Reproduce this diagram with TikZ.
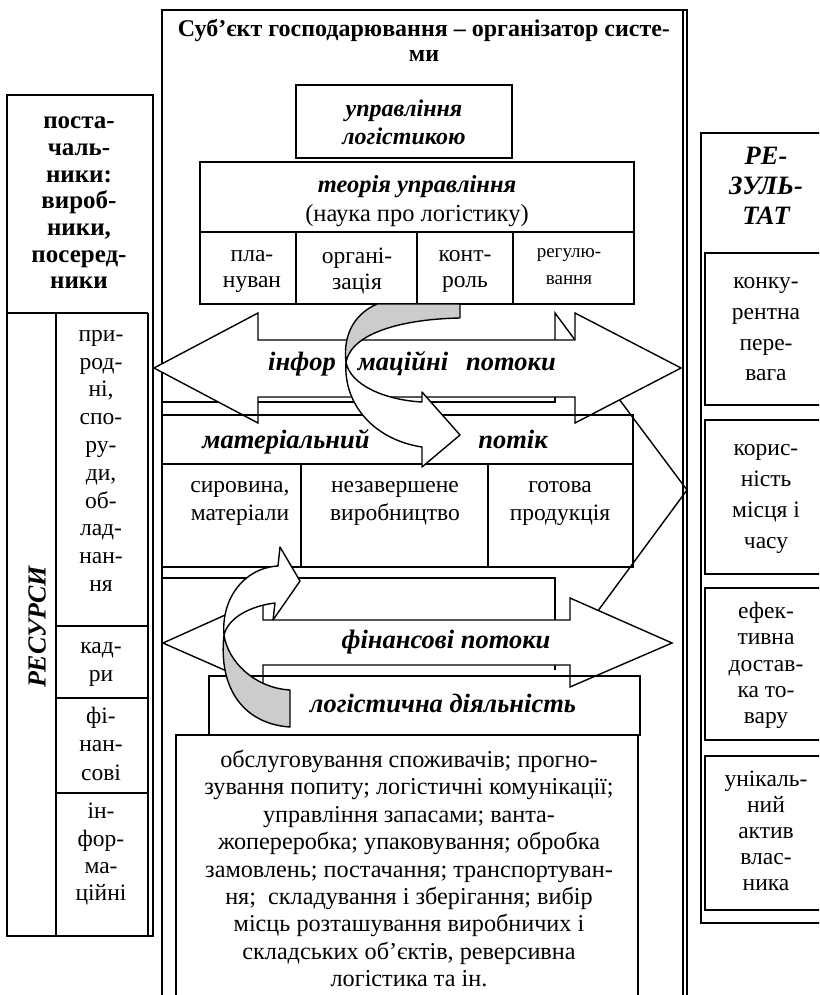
\documentclass[tikz,border=0pt]{standalone}
\usepackage{fontspec}
\setmainfont{Liberation Serif}
\newcommand\fsz[2]{\fontsize{#1}{#2}\selectfont}
\begin{document}
\begin{tikzpicture}[x=1pt,y=-1pt,
  ln/.style={draw=black,line width=1.4pt,line join=miter},
  tx/.style={inner sep=0pt,align=center,execute at begin node=\strut,execute at end node=\strut},
  rg/.style={tx,font={\fsz{23.5}{#1}}}, rg/.default=27.4,
  rb/.style={tx,font={\fsz{24.2}{#1}}}, rb/.default=27.4,
  sm/.style={tx,font={\fsz{19}{#1}}}, sm/.default=27,
  bb/.style={tx,font={\bfseries\fsz{25}{#1}}}, bb/.default=26.7,
  bt/.style={tx,font={\bfseries\fsz{24}{#1}}}, bt/.default=25,
  bi/.style={tx,font={\bfseries\itshape\fsz{26.5}{#1}}}, bi/.default=28,
  bs/.style={tx,font={\bfseries\itshape\fsz{24}{#1}}}, bs/.default=28,
  backpart/.style={ln,fill=black!20,line join=round},
  frontpart/.style={ln,fill=white,line join=round}
]
\useasboundingbox (0,0) rectangle (819,995);
\begin{scope}
\clip (0,0) rectangle (819,995);

% ---------------- left column
\draw[ln] (7,95) rectangle (153,936);
\draw[ln] (7,313) -- (148,313);
\draw[ln] (148,313) -- (148,936);
\draw[ln] (56,313) -- (56,936);
\draw[ln] (56,626) -- (148,626);
\draw[ln] (56,698) -- (148,698);
\draw[ln] (56,793) -- (148,793);
\node[bb=26.7] (sup) at (79,207) {поста-\\чаль-\\ники:\\вироб-\\ники,\\посеред-\\ники};
\node[rg=27.8] (res1) at (101,465) {при-\\род-\\ні,\\спо-\\ру-\\ди,\\об-\\лад-\\нан-\\ня};
\node[rg=28] (res2) at (101,666) {кад-\\ри};
\node[rg=28.5] (res3) at (101,748) {фі-\\нан-\\сові};
\node[rg=27.3] (res4) at (101,856) {ін-\\фор-\\ма-\\ційні};
\node[tx,font={\bfseries\itshape\fsz{26}{28}},rotate=90] (resh) at (40,627) {РЕСУРСИ};

% ---------------- right column
\draw[ln] (701,133) rectangle (840,923);
\draw[ln] (705,253) rectangle (840,405);
\draw[ln] (705,420) rectangle (840,574);
\draw[ln] (705,588) rectangle (840,740);
\draw[ln] (705,756) rectangle (840,910);
\node[bi=30] (rez) at (766,190) {РЕ-\\ЗУЛЬ-\\ТАТ};
\node[rg=30.7] (r1) at (766,334) {конку-\\рентна\\пере-\\вага};
\node[rg=31] (r2) at (766,501) {корис-\\ність\\місця і\\часу};
\node[rg=26.3] (r3) at (766,667) {ефек-\\тивна\\достав-\\ка то-\\вару};
\node[rg=26] (r4) at (766,835) {унікаль-\\ний\\актив\\влас-\\ника};

% ---------------- central frame
\draw[ln] (162,1000) -- (162,10) -- (687,10) -- (687,1000);
\draw[ln] (683,10) -- (683,1000);
\node[bt=25] (title) at (424,44.5) {Суб’єкт господарювання – організатор систе-\\ми};

% management boxes
\draw[ln] (296,85) rectangle (512,158);
\node[bs=28] (upr) at (404,126) {управління\\логістикою};
\draw[ln] (200,162) rectangle (634,232);
\node[tx,font={\fsz{24.5}{29}}] (teor) at (417,202.5) {\textbf{\textit{теорія управління}}\\(наука про логістику)};
\draw[ln] (200,232) rectangle (634,304);
\draw[ln] (296,232) -- (296,304);
\draw[ln] (417,232) -- (417,304);
\draw[ln] (513,232) -- (513,304);
\begin{scope}
\clip (200,232) rectangle (634,293);
\node[rg=26] (plan) at (252,273) {пла-\\нуван};
\node[rg=26] (kontr) at (465,273) {конт-\\роль};
\end{scope}
\node[rg=26] (org) at (357,273) {органі-\\зація};
\node[sm=27] (reg) at (569,270.5) {регулю-\\вання};

% hidden shapes behind the flows
\draw[ln] (162,402) -- (555,402) -- (555,397);
\draw[ln] (555,340) -- (555,313) -- (575,340);
\draw[ln] (162,578) -- (555,578) -- (555,620);
\draw[ln] (555,665) -- (555,670);
\draw[ln] (613,391) -- (687,490) -- (589,623);

% information flow
\draw[ln,fill=white] (154,368) -- (258,313) -- (258,340) -- (575,340) -- (575,313) -- (681,368)
   -- (575,423) -- (575,397) -- (258,397) -- (258,423) -- cycle;
\node[bi] (inf1) at (302,365) {інфор};
\node[bi] (inf2) at (403,365) {маційні};
\node[bi] (inf3) at (511,365) {потоки};

% material flow
\draw[ln] (162,415) rectangle (633,567);
\draw[ln] (162,464) -- (633,464);
\draw[ln] (301,464) -- (301,567);
\draw[ln] (488,464) -- (488,567);
\node[bi] (mat1) at (286,443) {матеріальний};
\node[bi] (mat2) at (513,443) {потік};
\node[rg=27.5] (c1) at (240,505) {сировина,\\матеріали};
\node[rg=27.5] (c2) at (395,505) {незавершене\\виробництво};
\node[rg=27.5] (c3) at (560,505) {готова\\продукція};

% financial flow
\draw[ln,fill=white] (163,643) -- (263,598) -- (263,620) -- (570,620) -- (570,598) -- (672,643)
   -- (570,687) -- (570,665) -- (263,665) -- (263,687) -- cycle;
\node[bi] (fin) at (446,643) {фінансові потоки};

% logistics activity
\draw[ln] (209,676) rectangle (640,735);
\node[bi] (log) at (443,707) {логістична діяльність};
\draw[ln] (176,1000) -- (176,735) -- (638,735) -- (638,1000);
\node[rb=27.4] (act) at (409,872.5) {обслуговування споживачів; прогно-\\зування попиту; логістичні комунікації;\\управління запасами; ванта-\\жопереробка; упаковування; обробка\\замовлень; постачання; транспортуван-\\ня; \ складування і зберігання; вибір\\місць розташування виробничих і\\складських об’єктів, реверсивна\\логістика та ін.};

% curved arrows
\draw[backpart] (377,304) -- (460,304) -- (460,318) .. controls (405,319) and (352,332) .. (346,362)
   .. controls (343,338) and (352,315) .. (377,304) -- cycle;
\draw[frontpart] (346,362) .. controls (350,385) and (385,400) .. (422,402) -- (422,392) -- (460,435)
   -- (422,467) -- (422,447) .. controls (375,440) and (343,405) .. (346,362) -- cycle;
\draw[backpart] (224,635) .. controls (228,662) and (255,688) .. (290,690) -- (290,727)
   .. controls (245,724) and (218,690) .. (224,635) -- cycle;
\draw[frontpart] (224,635) .. controls (221,600) and (243,568) .. (278,566) -- (280,547) -- (300,581)
   -- (273,620) -- (275,603) .. controls (250,606) and (228,618) .. (224,635) -- cycle;
\end{scope}
\end{tikzpicture}
\end{document}
